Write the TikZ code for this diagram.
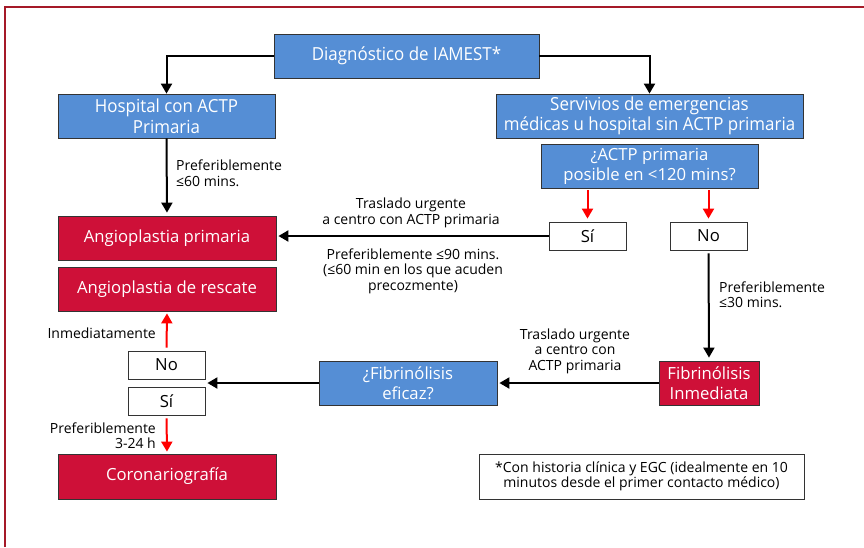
\documentclass[tikz,border=0pt]{standalone}
\usepackage{fontspec}
\setmainfont{Open Sans}
\newfontfamily\narrowfont[FakeStretch=0.94]{Open Sans}
\usetikzlibrary{arrows.meta,calc}
\definecolor{boxblue}{RGB}{85,142,213}
\definecolor{boxred}{RGB}{206,16,56}
\definecolor{framered}{RGB}{165,25,40}
\tikzset{
  box/.style={draw=black!80, line width=0.8pt, inner sep=0pt, align=center,
    font=\fontsize{16.7}{20}\selectfont},
  bluebox/.style={box, fill=boxblue, text=white,
    font=\narrowfont\fontsize{18}{20.5}\selectfont},
  qbox/.style={box, fill=boxblue, text=white},
  redbox/.style={box, fill=boxred, text=white},
  whitebox/.style={box, fill=white},
  lbl/.style={inner sep=0pt, font=\fontsize{14}{15.5}\selectfont},
  arr/.style={line width=2pt, -{Triangle[length=10pt,width=11pt]}},
  redarr/.style={arr, red},
}
\begin{document}
\begin{tikzpicture}[x=1pt,y=-1pt]
  \fill[white] (0,0) rectangle (864,547);
  \useasboundingbox (0,0) rectangle (864,547);
  % outer frame (left and top edges)
  \draw[framered, line width=2pt] (5,547) -- (5,7) -- (864,7);

  % boxes
  \node[bluebox, minimum width=265, minimum height=44] (diag) at (406.5,56) {Diagnóstico de IAMEST*};
  \node[bluebox, minimum width=217, minimum height=44] (hosp) at (166.5,116) {Hospital con ACTP\\Primaria};
  \node[bluebox, minimum width=307, minimum height=44] (serv) at (649.5,116) {Servivios de emergencias\\médicas u hospital sin ACTP primaria};
  \node[qbox, minimum width=217, minimum height=44] (actp) at (649.5,166) {¿ACTP primaria\\posible en <120 mins?};
  \node[whitebox, minimum width=77, minimum height=28] (si1) at (587.5,236) {Sí};
  \node[whitebox, minimum width=77, minimum height=28] (no1) at (708.5,236) {No};
  \node[redbox, minimum width=218, minimum height=44] (ap) at (167,238) {Angioplastia primaria};
  \node[redbox, minimum width=218, minimum height=44] (ar) at (167,289) {Angioplastia de rescate};
  \node[redbox, minimum width=100, minimum height=44] (fi) at (709,383) {Fibrinólisis\\Inmediata};
  \node[qbox, minimum width=178, minimum height=44] (fe) at (408,383) {¿Fibrinólisis\\eficaz?};
  \node[whitebox, minimum width=77, minimum height=28] (no2) at (166.5,365) {No};
  \node[whitebox, minimum width=77, minimum height=28] (si2) at (166.5,401) {Sí};
  \node[redbox, minimum width=218, minimum height=45] (cor) at (167,476.5) {Coronariografía};
  \node[whitebox, minimum width=325, minimum height=45, font=\fontsize{14}{15.5}\selectfont] (note) at (641.5,476.5)
    {*Con historia clínica y EGC (idealmente en 10\\minutos desde el primer contacto médico)};

  % connectors
  \draw[arr] (diag.west) -| (hosp.north);
  \draw[arr] (diag.east) -| (serv.north);
  \draw[arr, shorten >=3pt] (hosp.south) -- (ap.north);
  \draw[redarr, shorten <=2pt, shorten >=3pt] (actp.south -| si1.north) -- (si1.north);
  \draw[redarr, shorten <=2pt, shorten >=3pt] (actp.south -| no1.north) -- (no1.north);
  \draw[arr, shorten >=2pt] (si1.west) -- (si1.west -| ap.east);
  \draw[arr, shorten <=3pt, shorten >=3pt] (no1.south) -- (fi.north);
  \draw[arr, shorten >=2pt] (fi.west) -- (fe.east);
  % the arrow from the question box ends between the two answer boxes
  \coordinate (pair) at ($(no2.south east)!0.5!(si2.north east)$);
  \draw[arr, shorten >=2pt] (fe.west) -- (pair);
  \draw[redarr, shorten <=3pt, shorten >=2pt] (no2.north) -- (ar.south);
  \draw[redarr, shorten <=3pt, shorten >=2pt] (si2.south) -- (cor.north);

  % labels
  \node[lbl, align=left, anchor=west] (l60) at (176,173) {Preferiblemente\\≤60 mins.};
  \node[lbl, align=center] (ltr1) at (411,213) {Traslado urgente\\a centro con ACTP primaria};
  \node[lbl, align=center] (l90) at (413,271) {Preferiblemente ≤90 mins.\\(≤60 min en los que acuden\\precozmente)};
  \node[lbl, align=left, anchor=west] (l30) at (719,294.5) {Preferiblemente\\≤30 mins.};
  \node[lbl, align=center] (ltr2) at (575,351) {Traslado urgente\\a centro con\\ACTP primaria};
  \node[lbl, anchor=east] (linm) at (156,333) {Inmediatamente};
  \node[lbl, align=right, anchor=east] (l324) at (156,435.5) {Preferiblemente\\3-24 h};
\end{tikzpicture}
\end{document}
